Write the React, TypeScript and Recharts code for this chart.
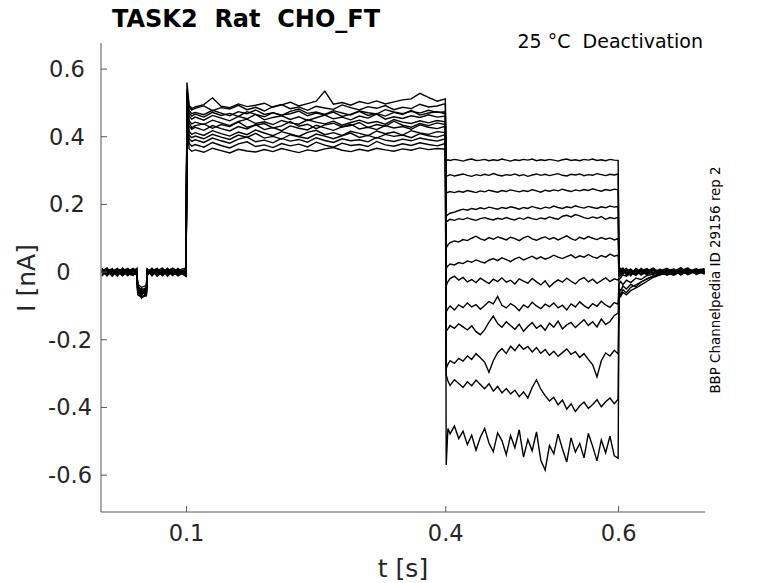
import React from 'react';
import { LineChart, Line, XAxis, YAxis } from 'recharts';

// sample times (s) for each protocol segment
const baseT = [0.002, 0.008, 0.014, 0.02, 0.026, 0.032, 0.038, 0.0425, 0.0435, 0.048, 0.0535, 0.0545, 0.06, 0.066, 0.072, 0.078, 0.084, 0.09, 0.0995];
const actT = [0.1005, 0.103, 0.106, 0.11, 0.12, 0.13, 0.14, 0.15, 0.16, 0.17, 0.18, 0.19, 0.2, 0.21, 0.22, 0.23, 0.24, 0.25, 0.26, 0.27, 0.28, 0.29, 0.3, 0.31, 0.32, 0.33, 0.34, 0.35, 0.36, 0.37, 0.38, 0.39, 0.3995];
const deactT = [0.4005, 0.4025, 0.405, 0.41, 0.415, 0.42, 0.425, 0.43, 0.435, 0.44, 0.445, 0.45, 0.455, 0.46, 0.465, 0.47, 0.475, 0.48, 0.485, 0.49, 0.495, 0.5, 0.505, 0.51, 0.515, 0.52, 0.525, 0.53, 0.535, 0.54, 0.545, 0.55, 0.555, 0.56, 0.565, 0.57, 0.575, 0.58, 0.585, 0.59, 0.595, 0.5995];
const tailT = [0.6005, 0.6025, 0.605, 0.609, 0.614, 0.62, 0.626, 0.633, 0.64, 0.648, 0.656, 0.664, 0.672, 0.68, 0.69, 0.6995];

// current (nA), one row per sweep
const baseline = [
  [0.004, -0.006, 0.008, -0.003, 0.010, -0.008, 0.002, 0.006, -0.041, -0.052, -0.047, 0.003, -0.005, 0.009, -0.002, 0.011, -0.007, 0.005, 0.012],
  [-0.008, 0.003, -0.004, 0.009, -0.006, 0.005, -0.010, 0.001, -0.055, -0.063, -0.058, -0.004, 0.007, -0.009, 0.004, -0.003, 0.008, -0.011, 0.002],
  [0.010, -0.002, 0.006, -0.009, 0.003, 0.011, -0.004, -0.007, -0.036, -0.045, -0.039, 0.008, -0.002, 0.004, -0.010, 0.006, 0.001, 0.009, -0.006],
  [-0.003, 0.009, -0.011, 0.004, 0.007, -0.005, 0.008, 0.004, -0.062, -0.072, -0.066, 0.001, 0.010, -0.006, 0.008, -0.012, 0.004, -0.002, 0.007],
  [0.006, -0.010, 0.002, 0.011, -0.007, 0.001, 0.005, -0.003, -0.048, -0.058, -0.051, -0.008, 0.003, 0.011, -0.005, 0.002, -0.010, 0.006, -0.004],
  [-0.012, 0.005, 0.009, -0.006, 0.002, -0.011, 0.007, 0.009, -0.044, -0.066, -0.054, 0.005, -0.009, 0.002, 0.012, -0.004, 0.007, -0.008, 0.010],
  [0.002, 0.012, -0.007, 0.001, -0.010, 0.008, -0.002, -0.009, -0.058, -0.049, -0.062, -0.002, 0.006, -0.012, 0.001, 0.009, -0.003, 0.011, -0.009],
  [0.008, -0.004, 0.003, -0.012, 0.009, -0.001, 0.011, 0.002, -0.039, -0.061, -0.043, 0.009, -0.006, 0.007, -0.008, 0.004, 0.012, -0.005, 0.003],
  [-0.005, 0.007, -0.009, 0.006, -0.002, 0.010, -0.007, 0.007, -0.067, -0.074, -0.070, -0.006, 0.011, -0.003, 0.006, -0.009, 0.002, 0.008, -0.011],
  [0.011, -0.008, 0.005, 0.002, -0.011, 0.004, 0.009, -0.005, -0.051, -0.057, -0.063, 0.004, -0.001, 0.010, -0.011, 0.003, -0.006, -0.001, 0.008],
  [-0.001, 0.004, -0.012, 0.008, 0.005, -0.006, -0.009, 0.010, -0.046, -0.069, -0.050, 0.007, -0.011, 0.005, 0.003, -0.008, 0.010, 0.004, -0.002],
  [0.005, -0.011, 0.010, -0.004, 0.001, 0.007, -0.005, -0.002, -0.060, -0.053, -0.068, -0.010, 0.004, -0.007, 0.009, 0.001, -0.004, -0.009, 0.006],
  [-0.009, 0.001, 0.004, -0.007, 0.012, -0.003, 0.006, 0.003, -0.053, -0.077, -0.061, 0.002, 0.008, 0.001, -0.006, 0.011, -0.008, 0.003, -0.013],
];

const activation = [
  [0.53, 0.476, 0.468, 0.472, 0.465, 0.478, 0.470, 0.462, 0.474, 0.468, 0.479, 0.466, 0.471, 0.463, 0.475, 0.482, 0.469, 0.473, 0.466, 0.477, 0.470, 0.464, 0.476, 0.471, 0.467, 0.480, 0.473, 0.468, 0.475, 0.470, 0.478, 0.472, 0.474],
  [0.56, 0.492, 0.484, 0.488, 0.495, 0.515, 0.490, 0.486, 0.497, 0.489, 0.493, 0.499, 0.487, 0.494, 0.502, 0.491, 0.498, 0.505, 0.535, 0.496, 0.501, 0.493, 0.504, 0.498, 0.506, 0.497, 0.503, 0.509, 0.512, 0.528, 0.516, 0.505, 0.512],
  [0.50, 0.447, 0.438, 0.443, 0.436, 0.449, 0.441, 0.433, 0.445, 0.452, 0.439, 0.444, 0.436, 0.448, 0.441, 0.437, 0.450, 0.443, 0.438, 0.446, 0.434, 0.442, 0.449, 0.440, 0.445, 0.437, 0.451, 0.443, 0.439, 0.447, 0.441, 0.448, 0.444],
  [0.47, 0.416, 0.407, 0.412, 0.404, 0.418, 0.409, 0.402, 0.414, 0.406, 0.420, 0.411, 0.403, 0.415, 0.408, 0.401, 0.413, 0.419, 0.406, 0.412, 0.404, 0.416, 0.410, 0.403, 0.417, 0.409, 0.414, 0.405, 0.418, 0.411, 0.407, 0.415, 0.412],
  [0.54, 0.488, 0.479, 0.484, 0.491, 0.477, 0.486, 0.482, 0.493, 0.480, 0.487, 0.476, 0.489, 0.495, 0.483, 0.488, 0.478, 0.490, 0.485, 0.481, 0.494, 0.486, 0.479, 0.489, 0.484, 0.492, 0.480, 0.487, 0.483, 0.496, 0.488, 0.491, 0.498],
  [0.46, 0.394, 0.386, 0.391, 0.383, 0.396, 0.388, 0.381, 0.393, 0.399, 0.385, 0.390, 0.382, 0.395, 0.387, 0.392, 0.384, 0.397, 0.389, 0.383, 0.394, 0.388, 0.391, 0.385, 0.398, 0.390, 0.386, 0.393, 0.388, 0.396, 0.391, 0.387, 0.394],
  [0.52, 0.461, 0.452, 0.458, 0.449, 0.463, 0.455, 0.447, 0.460, 0.453, 0.466, 0.450, 0.457, 0.462, 0.451, 0.459, 0.448, 0.456, 0.464, 0.453, 0.458, 0.450, 0.461, 0.455, 0.467, 0.452, 0.459, 0.454, 0.462, 0.457, 0.465, 0.458, 0.461],
  [0.49, 0.431, 0.422, 0.428, 0.419, 0.433, 0.424, 0.417, 0.430, 0.423, 0.436, 0.421, 0.427, 0.418, 0.432, 0.425, 0.420, 0.434, 0.426, 0.419, 0.429, 0.437, 0.423, 0.428, 0.421, 0.433, 0.426, 0.430, 0.422, 0.435, 0.428, 0.424, 0.431],
  [0.44, 0.364, 0.357, 0.361, 0.354, 0.366, 0.359, 0.352, 0.363, 0.358, 0.355, 0.362, 0.356, 0.365, 0.359, 0.353, 0.361, 0.357, 0.364, 0.368, 0.360, 0.356, 0.363, 0.358, 0.366, 0.361, 0.357, 0.364, 0.360, 0.367, 0.362, 0.365, 0.363],
  [0.50, 0.441, 0.427, 0.433, 0.438, 0.425, 0.436, 0.430, 0.444, 0.428, 0.434, 0.439, 0.426, 0.432, 0.445, 0.431, 0.437, 0.424, 0.435, 0.440, 0.429, 0.433, 0.442, 0.427, 0.436, 0.431, 0.446, 0.434, 0.428, 0.439, 0.433, 0.441, 0.436],
  [0.45, 0.381, 0.372, 0.377, 0.369, 0.383, 0.374, 0.367, 0.379, 0.385, 0.371, 0.376, 0.368, 0.380, 0.373, 0.378, 0.370, 0.384, 0.375, 0.369, 0.381, 0.374, 0.377, 0.371, 0.386, 0.376, 0.372, 0.379, 0.374, 0.382, 0.377, 0.373, 0.380],
  [0.47, 0.404, 0.397, 0.402, 0.394, 0.407, 0.399, 0.392, 0.405, 0.398, 0.410, 0.396, 0.401, 0.393, 0.406, 0.400, 0.395, 0.408, 0.402, 0.394, 0.403, 0.411, 0.398, 0.404, 0.396, 0.407, 0.401, 0.405, 0.397, 0.409, 0.403, 0.399, 0.406],
  [0.53, 0.470, 0.461, 0.467, 0.458, 0.472, 0.463, 0.469, 0.460, 0.474, 0.466, 0.459, 0.471, 0.464, 0.468, 0.476, 0.462, 0.470, 0.465, 0.473, 0.460, 0.467, 0.475, 0.463, 0.469, 0.461, 0.472, 0.466, 0.478, 0.464, 0.470, 0.474, 0.468],
];

const deactivation = [
  [0.329, 0.332, 0.330, 0.333, 0.331, 0.328, 0.332, 0.334, 0.330, 0.331, 0.333, 0.329, 0.332, 0.330, 0.334, 0.331, 0.328, 0.332, 0.330, 0.333, 0.331, 0.334, 0.329, 0.332, 0.330, 0.333, 0.331, 0.328, 0.332, 0.334, 0.330, 0.332, 0.329, 0.333, 0.331, 0.334, 0.330, 0.332, 0.329, 0.333, 0.331, 0.330],
  [0.283, 0.285, 0.288, 0.284, 0.287, 0.290, 0.286, 0.283, 0.288, 0.285, 0.289, 0.286, 0.291, 0.287, 0.284, 0.288, 0.286, 0.290, 0.285, 0.288, 0.283, 0.287, 0.290, 0.286, 0.289, 0.285, 0.288, 0.291, 0.286, 0.284, 0.289, 0.287, 0.290, 0.285, 0.288, 0.286, 0.291, 0.288, 0.285, 0.289, 0.287, 0.290],
  [0.233, 0.236, 0.238, 0.235, 0.239, 0.236, 0.241, 0.238, 0.235, 0.240, 0.237, 0.242, 0.239, 0.236, 0.241, 0.238, 0.243, 0.240, 0.237, 0.241, 0.238, 0.244, 0.240, 0.236, 0.242, 0.239, 0.243, 0.240, 0.245, 0.241, 0.238, 0.243, 0.240, 0.244, 0.241, 0.246, 0.242, 0.239, 0.244, 0.241, 0.245, 0.243],
  [0.165, 0.170, 0.174, 0.177, 0.182, 0.186, 0.183, 0.188, 0.185, 0.190, 0.187, 0.192, 0.189, 0.186, 0.191, 0.188, 0.193, 0.190, 0.186, 0.191, 0.188, 0.194, 0.190, 0.187, 0.192, 0.189, 0.195, 0.191, 0.188, 0.193, 0.190, 0.196, 0.192, 0.189, 0.194, 0.191, 0.188, 0.193, 0.190, 0.195, 0.192, 0.194],
  [0.148, 0.152, 0.156, 0.153, 0.158, 0.155, 0.160, 0.156, 0.153, 0.158, 0.161, 0.157, 0.154, 0.159, 0.156, 0.161, 0.157, 0.154, 0.160, 0.156, 0.162, 0.158, 0.155, 0.160, 0.157, 0.163, 0.159, 0.156, 0.165, 0.168, 0.163, 0.170, 0.166, 0.161, 0.158, 0.163, 0.159, 0.164, 0.156, 0.161, 0.158, 0.162],
  [0.072, 0.080, 0.087, 0.092, 0.089, 0.096, 0.093, 0.100, 0.106, 0.098, 0.094, 0.102, 0.097, 0.104, 0.100, 0.095, 0.103, 0.099, 0.093, 0.101, 0.106, 0.098, 0.094, 0.100, 0.104, 0.097, 0.102, 0.095, 0.101, 0.107, 0.099, 0.094, 0.103, 0.098, 0.105, 0.100, 0.096, 0.102, 0.097, 0.101, 0.095, 0.099],
  [0.012, 0.018, 0.024, 0.021, 0.028, 0.025, 0.033, 0.029, 0.036, 0.031, 0.027, 0.035, 0.040, 0.034, 0.042, 0.037, 0.031, 0.039, 0.044, 0.036, 0.041, 0.047, 0.039, 0.045, 0.038, 0.043, 0.050, 0.044, 0.040, 0.046, 0.051, 0.042, 0.048, 0.044, 0.052, 0.045, 0.041, 0.049, 0.044, 0.053, 0.047, 0.050],
  [-0.040, -0.028, -0.019, -0.012, -0.024, -0.016, -0.029, -0.022, -0.031, -0.018, -0.026, -0.034, -0.021, -0.028, -0.017, -0.030, -0.024, -0.035, -0.020, -0.027, -0.033, -0.019, -0.029, -0.038, -0.026, -0.044, -0.032, -0.023, -0.030, -0.018, -0.027, -0.035, -0.022, -0.016, -0.029, -0.021, -0.033, -0.025, -0.017, -0.028, -0.020, -0.024],
  [-0.118, -0.108, -0.100, -0.112, -0.097, -0.105, -0.091, -0.103, -0.096, -0.110, -0.099, -0.087, -0.094, -0.072, -0.098, -0.106, -0.093, -0.101, -0.114, -0.097, -0.105, -0.089, -0.100, -0.108, -0.095, -0.102, -0.091, -0.106, -0.098, -0.112, -0.094, -0.103, -0.088, -0.099, -0.107, -0.093, -0.101, -0.086, -0.097, -0.104, -0.090, -0.095],
  [-0.175, -0.168, -0.158, -0.166, -0.153, -0.162, -0.171, -0.159, -0.176, -0.185, -0.170, -0.148, -0.130, -0.152, -0.163, -0.147, -0.158, -0.169, -0.154, -0.175, -0.161, -0.149, -0.166, -0.157, -0.172, -0.151, -0.163, -0.145, -0.168, -0.156, -0.149, -0.164, -0.152, -0.141, -0.158, -0.147, -0.162, -0.139, -0.155, -0.146, -0.128, -0.121],
  [-0.285, -0.272, -0.262, -0.270, -0.255, -0.263, -0.248, -0.258, -0.241, -0.253, -0.266, -0.296, -0.262, -0.238, -0.226, -0.241, -0.219, -0.232, -0.214, -0.228, -0.220, -0.236, -0.223, -0.240, -0.229, -0.246, -0.234, -0.249, -0.238, -0.227, -0.243, -0.235, -0.252, -0.241, -0.258, -0.274, -0.310, -0.262, -0.239, -0.248, -0.231, -0.242],
  [-0.305, -0.322, -0.335, -0.318, -0.329, -0.341, -0.324, -0.336, -0.319, -0.332, -0.345, -0.330, -0.352, -0.338, -0.357, -0.344, -0.360, -0.349, -0.368, -0.354, -0.372, -0.341, -0.318, -0.346, -0.365, -0.381, -0.370, -0.392, -0.378, -0.405, -0.389, -0.412, -0.396, -0.384, -0.403, -0.391, -0.377, -0.398, -0.383, -0.372, -0.389, -0.376],
  [-0.570, -0.462, -0.478, -0.455, -0.492, -0.470, -0.510, -0.482, -0.526, -0.488, -0.462, -0.505, -0.531, -0.475, -0.498, -0.540, -0.483, -0.519, -0.466, -0.547, -0.495, -0.528, -0.472, -0.556, -0.585, -0.512, -0.537, -0.479, -0.522, -0.561, -0.490, -0.532, -0.506, -0.549, -0.477, -0.515, -0.558, -0.496, -0.534, -0.485, -0.543, -0.550],
];

const tail = [
  [0.004, 0.009, -0.003, 0.007, -0.006, 0.011, 0.002, -0.008, 0.006, -0.002, 0.010, -0.005, 0.004, 0.012, -0.004, 0.007],
  [-0.002, 0.006, 0.012, -0.004, 0.008, -0.007, 0.005, 0.010, -0.003, 0.009, -0.008, 0.003, 0.011, -0.006, 0.005, -0.001],
  [0.008, -0.005, 0.004, 0.011, -0.002, 0.006, -0.009, 0.003, 0.012, -0.005, 0.004, 0.009, -0.007, 0.002, 0.010, -0.003],
  [0.001, 0.010, -0.006, 0.003, 0.009, -0.004, 0.011, -0.002, 0.005, -0.009, 0.007, 0.001, 0.013, -0.004, 0.006, 0.009],
  [-0.006, 0.003, 0.008, -0.009, 0.005, 0.001, -0.005, 0.009, -0.007, 0.004, 0.011, -0.003, 0.006, -0.008, 0.003, 0.010],
  [0.005, -0.008, 0.002, 0.006, -0.011, 0.007, 0.003, -0.006, 0.010, 0.001, -0.004, 0.008, -0.009, 0.005, -0.002, 0.004],
  [-0.010, -0.004, 0.006, -0.002, 0.004, -0.008, 0.009, 0.001, -0.005, 0.007, -0.002, 0.005, 0.001, 0.009, -0.007, 0.002],
  [-0.015, -0.009, -0.002, 0.004, -0.006, 0.003, -0.004, 0.008, -0.001, 0.006, -0.009, 0.002, 0.007, -0.003, 0.008, -0.005],
  [-0.022, -0.016, -0.008, -0.012, -0.003, -0.009, 0.002, -0.005, 0.006, -0.002, 0.004, -0.007, 0.003, 0.008, -0.004, 0.001],
  [-0.035, -0.028, -0.037, -0.024, -0.031, -0.018, -0.022, -0.010, -0.006, 0.001, -0.004, 0.005, -0.002, 0.006, -0.005, 0.003],
  [-0.048, -0.055, -0.041, -0.050, -0.036, -0.044, -0.029, -0.021, -0.012, -0.006, 0.002, -0.004, 0.006, -0.001, 0.004, -0.006],
  [-0.058, -0.066, -0.052, -0.061, -0.045, -0.038, -0.030, -0.019, -0.011, -0.004, -0.008, 0.001, -0.003, 0.005, -0.002, 0.002],
  [-0.050, -0.072, -0.060, -0.067, -0.055, -0.047, -0.038, -0.027, -0.016, -0.008, -0.003, -0.009, 0.002, -0.004, 0.003, -0.001],
];

const xTicks = [0.1, 0.4, 0.6];
const yTicks = [-0.6, -0.4, -0.2, 0, 0.2, 0.4, 0.6];
// MATLAB pads the tick labels to equal length, so they right-align with trailing spaces
const yTickLabels = ['-0.6', '-0.4', '-0.2', '0\u00a0\u00a0\u00a0', '0.2\u00a0', '0.4\u00a0', '0.6\u00a0'];

const sweeps = baseline.map((_, i) => [
  ...baseT.map((t, j) => ({ t, v: baseline[i][j] })),
  ...actT.map((t, j) => ({ t, v: activation[i][j] })),
  ...deactT.map((t, j) => ({ t, v: deactivation[i][j] })),
  ...tailT.map((t, j) => ({ t, v: tail[i][j] })),
]);

const axisColor = '#262626';
const font = 'DejaVu Sans';

export default function App() {
  return (
    <div style={{ position: 'absolute', left: 0, top: 0, width: 778, height: 583, background: '#fff' }}>
      <LineChart width={778} height={583} margin={{ top: 43, right: 73, bottom: 41, left: 41 }}>
        <XAxis
          dataKey="t"
          type="number"
          domain={[0.001, 0.7]}
          ticks={xTicks}
          allowDataOverflow
          height={30}
          tickSize={-6}
          tickMargin={19}
          stroke="#555"
          tick={{ fill: axisColor, fontSize: 22.5, fontFamily: font }}
        />
        <YAxis
          type="number"
          domain={[-0.709, 0.677]}
          ticks={yTicks}
          allowDataOverflow
          width={60}
          tickSize={-6}
          tickMargin={15}
          stroke="#555"
          tickFormatter={(v: number) => yTickLabels[yTicks.indexOf(v)]}
          tick={{ fill: axisColor, fontSize: 22.5, fontFamily: font }}
        />
        {sweeps.map((d, i) => (
          <Line
            key={i}
            data={d}
            dataKey="v"
            type="linear"
            stroke="#000"
            strokeWidth={1.4}
            dot={false}
            activeDot={false}
            isAnimationActive={false}
          />
        ))}
      </LineChart>
      <svg width={778} height={583} style={{ position: 'absolute', left: 0, top: 0, pointerEvents: 'none' }}>
        <text x={112} y={27} fontFamily={font} fontWeight="bold" fontSize={24} fill="#000" xmlSpace="preserve" style={{ whiteSpace: 'pre' }}>
          TASK2  Rat  CHO_FT
        </text>
        <text x={703} y={48} textAnchor="end" fontFamily={font} fontSize={19} fill="#000" xmlSpace="preserve" style={{ whiteSpace: 'pre' }}>
          25 °C  Deactivation
        </text>
        <text x={403} y={577} textAnchor="middle" fontFamily={font} fontSize={25} fill={axisColor}>
          t [s]
        </text>
        <text transform="translate(35,278) rotate(-90)" textAnchor="middle" fontFamily={font} fontSize={25} fill={axisColor}>
          I [nA]
        </text>
        <text transform="translate(720,280) rotate(-90)" textAnchor="middle" fontFamily={font} fontSize={13.4} fill="#000">
          BBP Channelpedia ID 29156 rep 2
        </text>
      </svg>
    </div>
  );
}
